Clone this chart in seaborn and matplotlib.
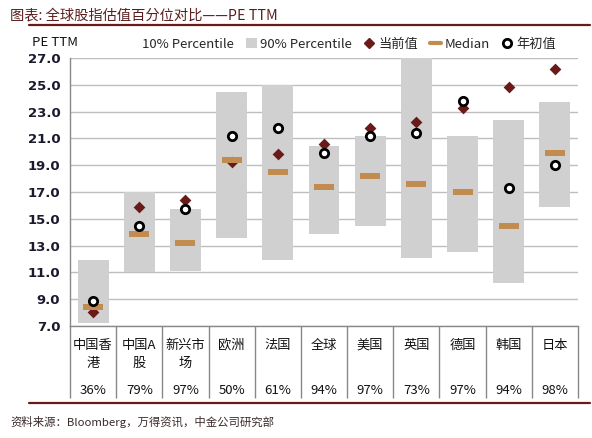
import numpy as np
import pandas as pd
import matplotlib
matplotlib.use('Agg')
import matplotlib.pyplot as plt
import matplotlib.transforms as mtransforms
from matplotlib.patches import Patch
from matplotlib.lines import Line2D
import seaborn as sns

# data
markets = ['中国香\n港', '中国A\n股', '新兴市\n场', '欧洲', '法国', '全球',
           '美国', '英国', '德国', '韩国', '日本']
pct_rank = ['36%', '79%', '97%', '50%', '61%', '94%', '97%', '73%', '97%', '94%', '98%']
p10 = [7.2, 11.0, 11.1, 13.6, 11.9, 13.9, 14.5, 12.1, 12.5, 10.2, 15.9]
p90 = [11.9, 17.0, 15.7, 24.5, 25.0, 20.4, 21.2, 27.0, 21.2, 22.4, 23.7]
median = [8.4, 13.9, 13.2, 19.4, 18.5, 17.4, 18.2, 17.6, 17.0, 14.5, 19.9]
current = [8.05, 15.9, 16.4, 19.25, 19.8, 20.6, 21.8, 22.2, 23.3, 24.8, 26.2]
year_start = [8.85, 14.5, 15.7, 21.2, 21.8, 19.9, 21.2, 21.4, 23.8, 17.3, 19.0]

df = pd.DataFrame({'market': markets, 'p10': p10, 'p90': p90, 'median': median,
                   'current': current, 'start': year_start})
df['span'] = df['p90'] - df['p10']

sns.set_style('white')
plt.rcParams['font.family'] = ['Noto Sans CJK SC', 'DejaVu Sans']

BAR = '#D0D0D0'
DARKRED = '#6B1A1A'
MED = '#C28C50'
GRID = '#BEBEBE'

fig = plt.figure(figsize=(5.92, 4.38), dpi=100)
ax = fig.add_axes([70 / 592, (438 - 326) / 438, (578 - 70) / 592, (326 - 58) / 438])

# floating percentile bars
sns.barplot(data=df, x='market', y='span', bottom=df['p10'], color=BAR, saturation=1,
            width=0.67, errorbar=None, linewidth=0, ax=ax, zorder=2)

# median as a short flat bar marker
rect = [(-1.8, -0.5), (1.8, -0.5), (1.8, 0.5), (-1.8, 0.5), (-1.8, -0.5)]
sns.stripplot(data=df, x='market', y='current', jitter=False, marker='D', size=6,
              color=DARKRED, linewidth=0, ax=ax, zorder=3)
sns.stripplot(data=df, x='market', y='median', jitter=False, marker=rect, size=15,
              color=MED, linewidth=0, ax=ax, zorder=4)
sns.stripplot(data=df, x='market', y='start', jitter=False, marker='o', size=6,
              color='white', edgecolor='black', linewidth=2.0, ax=ax, zorder=5)

ax.set_xlim(-0.5, 10.5)
ax.set_ylim(7, 27)
ax.set_yticks(np.arange(7, 28, 2))
ax.set_yticklabels([f'{v:.1f}' for v in np.arange(7, 28, 2)], fontweight='bold',
                   fontsize=9.5, family=['DejaVu Sans'])
ax.yaxis.grid(True, color=GRID, linewidth=1)
ax.set_axisbelow(True)
ax.tick_params(axis='y', length=4, pad=3, colors='#1a1a2e')
ax.tick_params(axis='y', color='#888888')
ax.set_xticks([])
ax.set_xlabel('')
ax.set_ylabel('')
for s in ['top', 'right']:
    ax.spines[s].set_visible(False)
for s in ['left', 'bottom']:
    ax.spines[s].set_color('#888888')
    ax.spines[s].set_linewidth(1)

# table below the axis
trans = mtransforms.blended_transform_factory(ax.transData, ax.transAxes)
tab_bottom = -(398 - 326) / (326 - 58)
ax.vlines(np.arange(-0.5, 11, 1), tab_bottom, 0, transform=trans, colors='#888888',
          linewidth=1, clip_on=False)
for i, (name, pr) in enumerate(zip(markets, pct_rank)):
    ax.text(i, -(339 - 326) / 268, name, transform=trans, ha='center', va='top',
            fontsize=9.5, linespacing=1.45, color='#111111')
    ax.text(i, -(390 - 326) / 268, pr, transform=trans, ha='center', va='center',
            fontsize=9.5, color='#111111')

# title, rules, source
fig.text(10 / 592, 1 - 15 / 438, '图表: 全球股指估值百分位对比——PE TTM', fontsize=10.3,
         style='italic', color='#5A1E1E', va='center', ha='left')
fig.add_artist(Line2D([29 / 592, 590 / 592], [1 - 25 / 438] * 2, color=DARKRED, linewidth=1.6))
fig.add_artist(Line2D([29 / 592, 590 / 592], [1 - 403 / 438] * 2, color=DARKRED, linewidth=1.6))
fig.text(10 / 592, 1 - 422 / 438, '资料来源：Bloomberg，万得资讯，中金公司研究部', fontsize=8.2,
         style='italic', color='#3a2a2a', va='center', ha='left')
fig.text(32 / 592, 1 - 43 / 438, 'PE TTM', fontsize=9.5, color='#111111', va='center')

# legend
handles = [
    Patch(facecolor='white', edgecolor='none'),
    Patch(facecolor=BAR, edgecolor='none'),
    Line2D([], [], marker='D', linestyle='none', color=DARKRED, markersize=5),
    Line2D([], [], color=MED, linewidth=3),
    Line2D([], [], marker='o', linestyle='none', markerfacecolor='white',
           markeredgecolor='black', markeredgewidth=2, markersize=6),
]
labels = ['10% Percentile', '90% Percentile', '当前值', 'Median', '年初值']
fig.legend(handles, labels, loc='center', bbox_to_anchor=(342 / 592, 1 - 44 / 438), ncol=5,
           frameon=False, fontsize=9.5, handlelength=0.8, handleheight=0.8,
           handletextpad=0.3, columnspacing=0.9)

fig.savefig('out.png', dpi=100)
